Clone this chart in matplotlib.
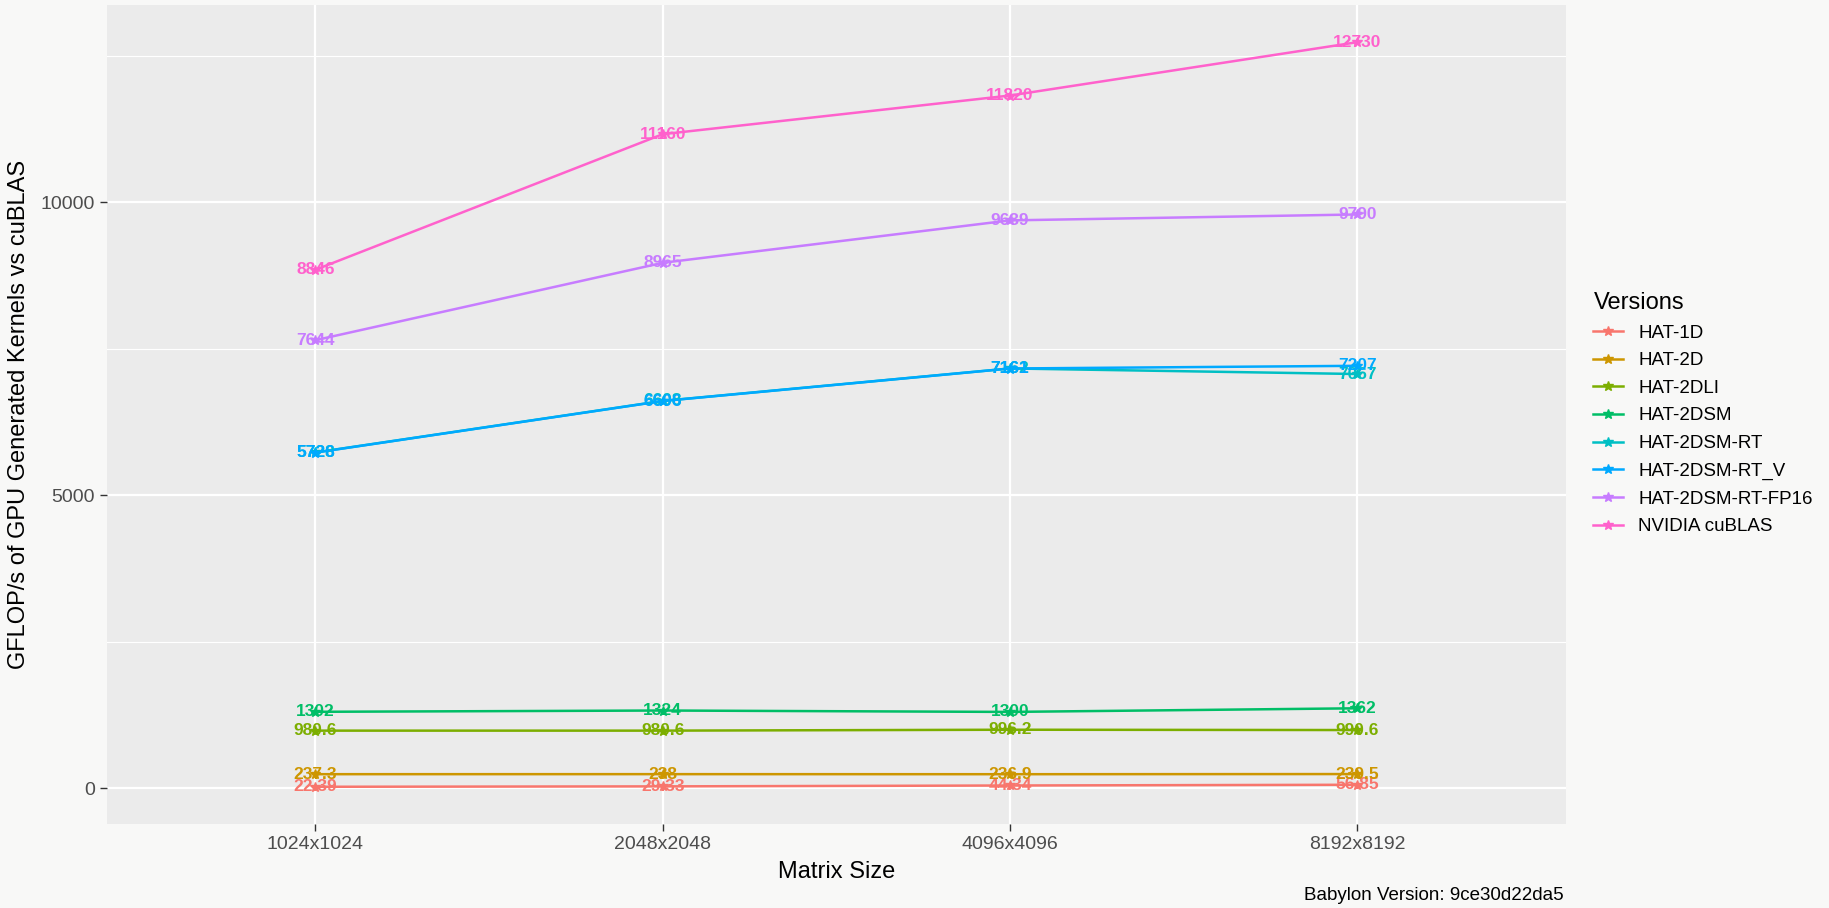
import matplotlib.pyplot as plt
from matplotlib.ticker import MultipleLocator

plt.rcParams["font.family"] = ["Liberation Sans", "DejaVu Sans"]

sizes = ["1024x1024", "2048x2048", "4096x4096", "8192x8192"]
versions = ["HAT-1D", "HAT-2D", "HAT-2DLI", "HAT-2DSM", "HAT-2DSM-RT",
            "HAT-2DSM-RT_V", "HAT-2DSM-RT-FP16", "NVIDIA cuBLAS"]

hat_1d = [22.39, 29.33, 44.34, 56.85]
hat_2d = [237.3, 238, 236.9, 239.5]
hat_2dli = [980.6, 980.6, 996.2, 990.6]
hat_2dsm = [1302, 1324, 1300, 1362]
hat_2dsm_rt = [5728, 6608, 7162, 7067]
hat_2dsm_rt_v = [5726, 6606, 7161, 7207]
hat_2dsm_rt_fp16 = [7644, 8965, 9689, 9790]
cublas = [8846, 11160, 11820, 12730]

series = [hat_1d, hat_2d, hat_2dli, hat_2dsm, hat_2dsm_rt,
          hat_2dsm_rt_v, hat_2dsm_rt_fp16, cublas]
colors = ["#F8766D", "#CD9600", "#7CAE00", "#00BE67",
          "#00BFC4", "#00A9FF", "#C77CFF", "#FF61CC"]

fig = plt.figure(figsize=(18.29, 9.08), dpi=100, facecolor="#F8F8F7")
ax = fig.add_axes([0.0585, 0.0925, 0.7975, 0.902])
ax.set_facecolor("#EBEBEB")

x = list(range(len(sizes)))
for name, vals, c in zip(versions, series, colors):
    ax.plot(x, vals, color=c, lw=1.8, marker="*", ms=7, label=name, zorder=3)
    for xi, v in zip(x, vals):
        ax.text(xi, v, f"{v:g}", color=c, fontsize=12.5, fontweight="bold",
                ha="center", va="center", zorder=4)

ax.set_xlim(-0.6, len(sizes) - 0.4)
ax.set_ylim(-613, 13365)
ax.set_xticks(x)
ax.set_xticklabels(sizes)
ax.yaxis.set_major_locator(MultipleLocator(5000))
ax.yaxis.set_minor_locator(MultipleLocator(2500))
ax.grid(which="major", color="white", lw=1.6, zorder=0)
ax.grid(which="minor", axis="y", color="white", lw=0.8, zorder=0)
ax.set_axisbelow(True)
for s in ax.spines.values():
    s.set_visible(False)
ax.tick_params(which="major", colors="#333333", labelsize=14, length=5,
               width=1, labelcolor="#4D4D4D")
ax.tick_params(which="minor", length=0)

ax.set_xlabel("Matrix Size", fontsize=17, labelpad=6)
ax.set_ylabel("GFLOP/s of GPU Generated Kernels vs cuBLAS", fontsize=17,
              labelpad=8)

leg = fig.legend(loc="upper left", bbox_to_anchor=(0.862, 0.697),
                 frameon=False, fontsize=13.5, title="Versions",
                 title_fontsize=17, handlelength=1.6, labelspacing=0.56,
                 alignment="left")

fig.text(0.855, 0.004, "Babylon Version: 9ce30d22da5", ha="right",
         va="bottom", fontsize=13.5)

fig.savefig("out.png", dpi=100, facecolor=fig.get_facecolor())
